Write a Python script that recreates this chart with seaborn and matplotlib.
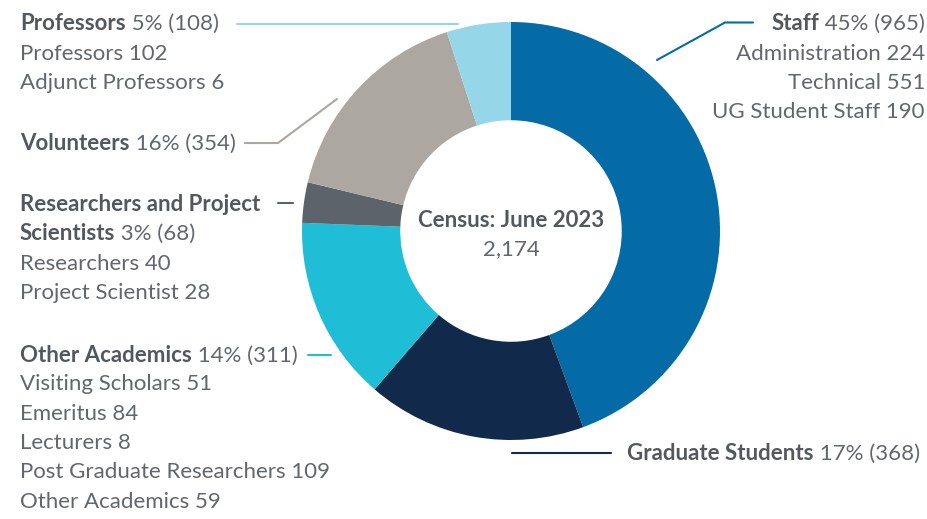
import matplotlib.pyplot as plt
import seaborn as sns

# data
groups = ['Staff', 'Graduate Students', 'Other Academics',
          'Researchers and Project Scientists', 'Volunteers', 'Professors']
counts = [965, 368, 311, 68, 354, 108]
pct_labels = ['45%', '17%', '14%', '3%', '16%', '5%']
total_label = '2,174'

staff_items = ['Administration 224', 'Technical 551', 'UG Student Staff 190']
prof_items = ['Professors 102', 'Adjunct Professors 6']
research_items = ['Researchers 40', 'Project Scientist 28']
other_items = ['Visiting Scholars 51', 'Emeritus 84', 'Lecturers 8',
               'Post Graduate Researchers 109', 'Other Academics 59']

colors = ['#056ba6', '#11294a', '#1fbed6', '#5c636b', '#aca8a1', '#95d7e8']

sns.set_theme(style='white')
plt.rcParams['font.family'] = ['Lato', 'DejaVu Sans']

W, H = 927, 519
TXT = '#62676d'
BOLD = '#53585e'
FS = 16
DY = 1.5  # small shift so text sits like the reference

fig = plt.figure(figsize=(W / 100, H / 100), dpi=100)
ax = fig.add_axes([0, 0, 1, 1])

def Y(y):
    return H - y

R = 209
ax.pie(counts, colors=colors, startangle=90, counterclock=False,
       center=(511, Y(231)), radius=R,
       wedgeprops=dict(width=R * 0.47, linewidth=0))
ax.set_xlim(0, W)
ax.set_ylim(0, H)
ax.set_aspect('equal')
ax.axis('off')


def head(x, y, bold, rest, right=False):
    if right:
        t = ax.text(x, Y(y + DY), ' ' + rest, ha='right', va='center',
                    fontsize=FS, color=TXT)
        ax.annotate(bold, xy=(0, 0.5), xycoords=t, ha='right', va='center',
                    fontsize=FS, color=BOLD, fontweight='bold')
    else:
        t = ax.text(x, Y(y + DY), bold, ha='left', va='center',
                    fontsize=FS, color=BOLD, fontweight='bold')
        ax.annotate(' ' + rest, xy=(1, 0.5), xycoords=t, ha='left', va='center',
                    fontsize=FS, color=TXT)


def lines(x, y0, items, right=False, step=29.3):
    for i, s in enumerate(items):
        ax.text(x, Y(y0 + DY + step * i), s, ha='right' if right else 'left',
                va='center', fontsize=FS, color=TXT)


# Staff (right side)
head(925, 22, 'Staff', f'{pct_labels[0]} ({counts[0]})', right=True)
lines(925, 52, staff_items, right=True)
ax.plot([753, 725, 657], [Y(22.5), Y(22.5), Y(60)], color=colors[0], lw=1.5)

# Graduate Students
head(920, 452, 'Graduate Students', f'{pct_labels[1]} ({counts[1]})', right=True)
ax.plot([512, 611], [Y(453), Y(453)], color=colors[1], lw=1.5)

# Professors
head(20, 22, 'Professors', f'{pct_labels[5]} ({counts[5]})')
lines(20, 52, prof_items)
ax.plot([237, 458], [Y(23.5), Y(23.5)], color=colors[5], lw=1.5)

# Volunteers
head(20, 142, 'Volunteers', f'{pct_labels[4]} ({counts[4]})')
ax.plot([245, 278, 337], [Y(143), Y(143), Y(99)], color=colors[4], lw=1.5)

# Researchers and Project Scientists
ax.text(20, Y(203 + DY), 'Researchers and Project', ha='left', va='center',
        fontsize=FS, color=BOLD, fontweight='bold')
head(20, 232, 'Scientists', f'{pct_labels[3]} ({counts[3]})')
lines(20, 262, research_items)
ax.plot([278, 293], [Y(203), Y(203)], color=colors[3], lw=1.5)

# Other Academics
head(20, 354, 'Other Academics', f'{pct_labels[2]} ({counts[2]})')
lines(20, 383, other_items)
ax.plot([308, 331], [Y(355), Y(355)], color=colors[2], lw=1.5)

# centre
ax.text(511, Y(219 + DY), 'Census: June 2023', ha='center', va='center',
        fontsize=FS, color=BOLD, fontweight='bold')
ax.text(511, Y(248 + DY), total_label, ha='center', va='center',
        fontsize=FS, color=TXT)

fig.savefig('out.png', dpi=100, facecolor='white')
